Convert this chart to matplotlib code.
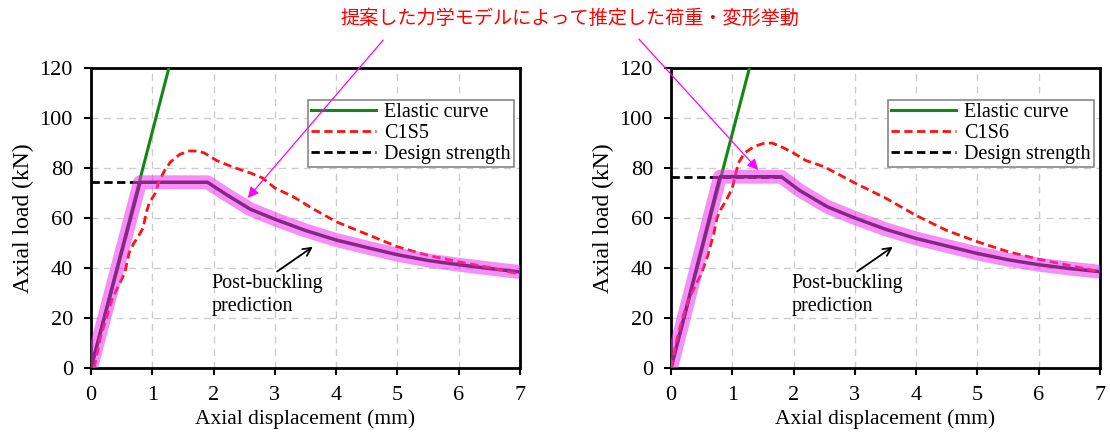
import matplotlib.pyplot as plt
from matplotlib.patches import FancyArrowPatch

# --- data ---
disp_ticks = [0, 1, 2, 3, 4, 5, 6, 7]
load_ticks = [0, 20, 40, 60, 80, 100, 120]

# left panel (C1S5)
elastic_x1 = [0.0, 1.27]
elastic_y1 = [0.0, 120.0]
design1 = 74.3
design_x1 = [0.0, 1.9]
pred_x1 = [0.0, 0.8, 1.9, 2.2, 2.6, 3.0, 3.5, 4.0, 4.5, 5.0, 5.5, 6.0, 6.5, 7.0]
pred_y1 = [0.0, 74.3, 74.3, 69.5, 63.5, 59.5, 55.0, 51.2, 48.2, 45.3, 43.0, 41.3, 39.8, 38.4]
test_x1 = [0.05, 0.15, 0.25, 0.35, 0.45, 0.55, 0.62, 0.7, 0.78, 0.85, 0.9, 0.95, 1.0, 1.05, 1.1,
           1.2, 1.3, 1.45, 1.6, 1.75, 1.85, 1.95, 2.05, 2.3, 2.6, 2.8, 3.0, 3.3, 3.6, 4.0,
           4.5, 5.0, 5.5, 6.0, 6.5, 7.0]
test_y1 = [0.0, 12.0, 20.0, 28.0, 33.0, 38.0, 46.0, 50.0, 53.0, 56.0, 62.0, 66.0, 68.0, 70.0, 74.0,
           79.0, 82.5, 85.5, 86.8, 86.8, 86.0, 84.5, 83.0, 80.5, 78.0, 76.0, 72.0, 68.5, 64.0, 58.5,
           53.5, 48.5, 45.0, 42.5, 40.2, 37.5]

# right panel (C1S6)
elastic_x2 = [0.0, 1.28]
elastic_y2 = [0.0, 120.0]
design2 = 76.5
design_x2 = [0.0, 1.8]
pred_x2 = [0.0, 0.8, 1.8, 2.1, 2.55, 3.0, 3.5, 4.0, 4.5, 5.0, 5.5, 6.0, 6.5, 7.0]
pred_y2 = [0.0, 76.5, 76.5, 71.0, 64.5, 60.0, 55.5, 51.8, 48.8, 45.8, 43.3, 41.3, 39.8, 38.5]
test_x2 = [0.0, 0.1, 0.2, 0.3, 0.4, 0.5, 0.6, 0.7, 0.75, 0.8, 0.9, 1.0, 1.1, 1.2, 1.35,
           1.5, 1.65, 1.8, 2.0, 2.2, 2.5, 3.0, 3.5, 4.0, 4.5, 5.0, 5.5, 6.0, 6.5, 7.0]
test_y2 = [0.0, 12.0, 21.0, 28.0, 33.0, 38.0, 45.0, 54.0, 60.0, 63.0, 67.0, 72.0, 82.0, 86.0, 88.5,
           89.8, 90.0, 88.5, 86.0, 83.0, 80.5, 74.0, 68.0, 61.0, 55.0, 50.5, 46.5, 43.5, 41.0, 38.5]

specimens = ["C1S5", "C1S6"]
note_text = "提案した力学モデルによって推定した荷重・変形挙動"

plt.rcParams['font.family'] = ['Liberation Serif', 'DejaVu Serif']

fig = plt.figure(figsize=(11.1, 4.36), dpi=100)
ax1 = fig.add_axes([0.082, 0.156, 0.3865, 0.688])
ax2 = fig.add_axes([0.6045, 0.156, 0.3865, 0.688])

panels = [
    (ax1, elastic_x1, elastic_y1, design1, design_x1, pred_x1, pred_y1, test_x1, test_y1, specimens[0]),
    (ax2, elastic_x2, elastic_y2, design2, design_x2, pred_x2, pred_y2, test_x2, test_y2, specimens[1]),
]

for ax, ex, ey, ds, dx, px, py, tx, ty, name in panels:
    ax.grid(True, color='#cccccc', linestyle=(0, (5, 4)), linewidth=1.0, zorder=0)
    ax.plot(ex, ey, color='#118811', lw=2.2, label='Elastic curve', zorder=3)
    ax.plot(tx, ty, color='#ff1111', lw=2.0, ls=(0, (3, 1.6)), label=name, zorder=4)
    ax.plot(dx, [ds, ds], color='black', lw=2.0, ls=(0, (3, 1.6)), label='Design strength', zorder=3)
    ax.plot(px, py, color='#111111', lw=2.5, zorder=3)
    ax.plot(px, py, color='#ee33ee', lw=10, alpha=0.55, solid_capstyle='butt', zorder=5)
    ax.set_xlim(0, 7)
    ax.set_ylim(0, 120)
    ax.set_xticks(disp_ticks)
    ax.set_yticks(load_ticks)
    ax.tick_params(labelsize=16, direction='out', length=5, width=1.5)
    ax.tick_params(axis='y', pad=8)
    ax.tick_params(axis='x', pad=8)
    for s in ax.spines.values():
        s.set_linewidth(2)
    ax.set_xlabel('Axial displacement (mm)', fontsize=15.5, labelpad=3)
    ax.set_ylabel('Axial load (kN)', fontsize=17, labelpad=4)
    leg = ax.legend(loc='upper right', bbox_to_anchor=(0.985, 0.895), fontsize=14.5,
                    handlelength=3.2, handletextpad=0.4, borderpad=0.15, labelspacing=0.1,
                    fancybox=False, framealpha=1, edgecolor='#888888', borderaxespad=0)
    leg.get_frame().set_linewidth(1.2)
    ax.annotate('Post-buckling\nprediction', xy=(3.62, 48.5), xytext=(1.97, 37.5),
                fontsize=14.5, va='top', ha='left', linespacing=1.3,
                arrowprops=dict(arrowstyle='->', color='black', lw=1.3,
                                relpos=(0.55, 1.0), shrinkA=0, shrinkB=0),
                zorder=6)

fig.text(0.513, 0.958, note_text, color='red', fontsize=13.8,
         family=['Noto Sans CJK JP', 'DejaVu Sans'], ha='center', va='center')

# magenta pointers from the note to each prediction
fig.add_artist(FancyArrowPatch(
    (385 / 1110, 1 - 38 / 436), (246 / 1110, 1 - 200 / 436), transform=fig.transFigure,
    arrowstyle='-|>', mutation_scale=16, color='#ff00ff', lw=0.9, zorder=10))
fig.add_artist(FancyArrowPatch(
    (637 / 1110, 1 - 37 / 436), (760 / 1110, 1 - 172 / 436), transform=fig.transFigure,
    arrowstyle='-|>', mutation_scale=16, color='#ff00ff', lw=0.9, zorder=10))

fig.savefig('out.png', dpi=100)
